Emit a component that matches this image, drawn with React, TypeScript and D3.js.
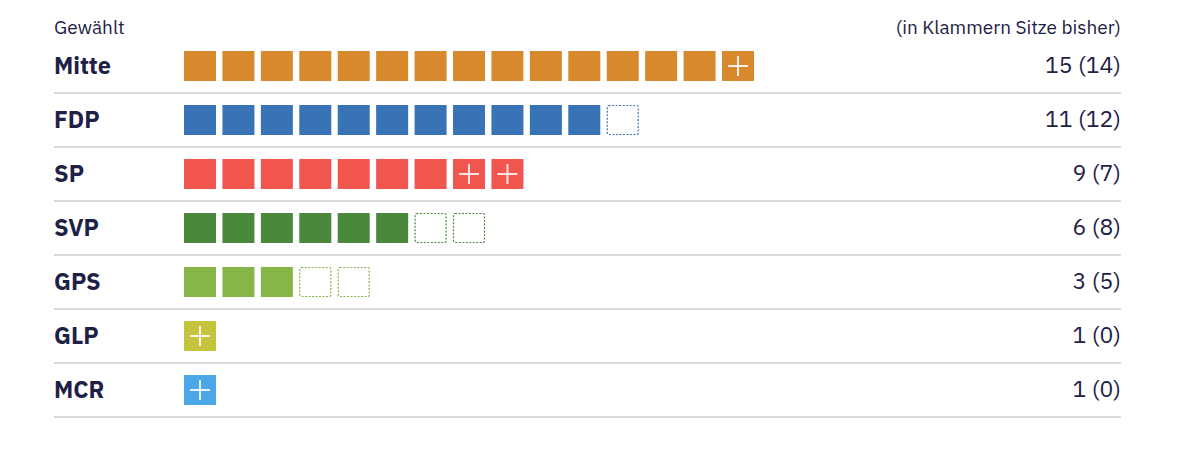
import React from "react";
import * as d3 from "d3";

// Sitzverteilung: gewählt (aktuell) und bisher
const parties = ["Mitte", "FDP", "SP", "SVP", "GPS", "GLP", "MCR"];
const seatsNow = [15, 11, 9, 6, 3, 1, 1];
const seatsBefore = [14, 12, 7, 8, 5, 0, 0];
const colors = ["#d8892e", "#3873b6", "#f0554e", "#4a883c", "#86b548", "#c6c43e", "#4ca7e8"];

const WIDTH = 1196;
const HEIGHT = 470;
const LEFT = 54;
const RIGHT = 1121;
const FONT = "'IBM Plex Sans', 'Noto Sans', 'Open Sans', sans-serif";
const INK = "#1e2145";

const App: React.FC = () => {
  const maxSeats = d3.max(seatsNow.map((n, i) => Math.max(n, seatsBefore[i]))) ?? 15;

  // Zeilen
  const yScale = d3.scaleBand<string>().domain(parties).range([39, 417]).paddingInner(0);
  // Sitzquadrate: Schritt 38.43px, Quadrat 32px
  const step = 38.43;
  const gap = 6.43;
  const xScale = d3.scaleBand<number>()
    .domain(d3.range(maxSeats))
    .range([184, 184 + step * maxSeats - gap])
    .paddingInner(gap / step)
    .paddingOuter(0);
  const sqW = xScale.bandwidth();
  const sqH = 30;

  return (
    <div style={{ position: "absolute", left: 0, top: 0 }}>
      <svg width={WIDTH} height={HEIGHT} viewBox={`0 0 ${WIDTH} ${HEIGHT}`} style={{ display: "block", background: "#fff" }}>
        <text x={LEFT} y={34} fontFamily={FONT} fontSize={19} fill={INK}>Gewählt</text>
        <text x={RIGHT} y={34} fontFamily={FONT} fontSize={19} fill={INK} textAnchor="end">
          (in Klammern Sitze bisher)
        </text>

        {parties.map((p, i) => {
          const y0 = yScale(p) ?? 0;
          const bh = yScale.bandwidth();
          const cy = y0 + bh / 2;
          const now = seatsNow[i];
          const before = seatsBefore[i];
          const kept = Math.min(now, before);
          const total = Math.max(now, before);
          const col = colors[i];
          return (
            <g key={p}>
              <text x={LEFT} y={cy + 8} fontFamily={FONT} fontSize={23.5} fontWeight={700} fill={INK}>{p}</text>
              {d3.range(total).map((k) => {
                const x = xScale(k) ?? 0;
                const y = cy - sqH / 2;
                if (k < kept) {
                  return <rect key={k} x={x} y={y} width={sqW} height={sqH} fill={col} />;
                }
                if (now > before) {
                  const mx = x + sqW / 2;
                  return (
                    <g key={k}>
                      <rect x={x} y={y} width={sqW} height={sqH} fill={col} />
                      <line x1={mx - 10} x2={mx + 10} y1={cy} y2={cy} stroke="#fff" strokeOpacity={0.85} strokeWidth={2} />
                      <line x1={mx} x2={mx} y1={cy - 10} y2={cy + 10} stroke="#fff" strokeOpacity={0.85} strokeWidth={2} />
                    </g>
                  );
                }
                return (
                  <rect key={k} x={x + 0.5} y={y + 0.5} width={sqW - 1} height={sqH - 1}
                    fill="none" stroke={col} strokeWidth={1.2} strokeDasharray="2 1.5" rx={1.5} />
                );
              })}
              <text x={RIGHT} y={cy + 7} fontFamily={FONT} fontSize={23} fill={INK} textAnchor="end">
                {`${now} (${before})`}
              </text>
              <line x1={LEFT} x2={RIGHT} y1={y0 + bh} y2={y0 + bh} stroke="#cccccc" strokeWidth={1.5} />
            </g>
          );
        })}
      </svg>
    </div>
  );
};

export default App;
